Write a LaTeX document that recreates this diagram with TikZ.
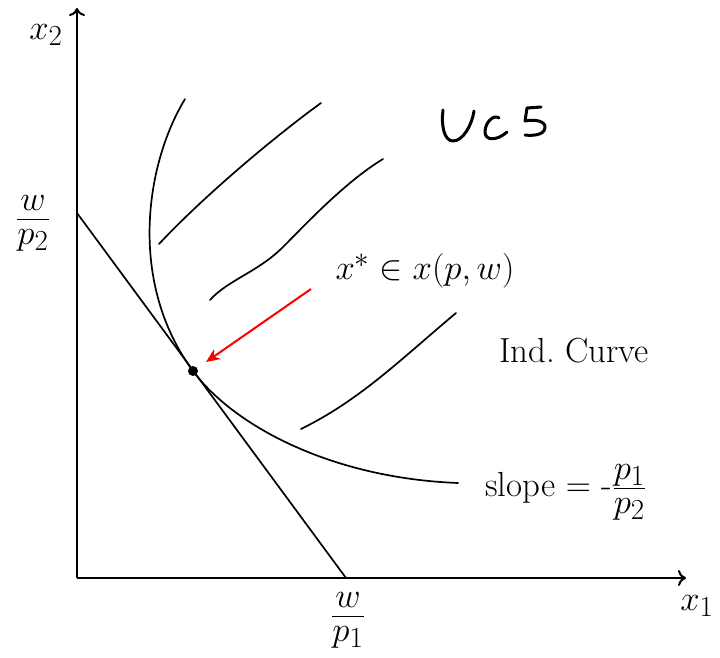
\documentclass[tikz,border=0pt]{standalone}
\usepackage{amsmath}
\usetikzlibrary{arrows.meta}
\newcommand\myfr[2]{\tfrac{\raisebox{3pt}{$\textstyle #1$}}{\raisebox{-3pt}{$\textstyle #2$}}}
\begin{document}
\begin{tikzpicture}[x=1pt,y=-1pt,
  axis/.style={line width=2pt,-{To[length=8pt,width=16pt,line width=2pt]}},
  curve/.style={line width=1.7pt,line cap=round},
  lbl/.style={font=\Huge,scale=1.4,inner sep=0pt},
  hand/.style={line width=3pt,line cap=round,line join=round}]
\useasboundingbox (0,0) rectangle (720,658);
% axes
\coordinate (O) at (77,578);
\coordinate (ytop) at (77,8);
\coordinate (xend) at (686,578);
\draw[axis] (O) -- (ytop);
\draw[axis] (O) -- (xend);
% budget line
\coordinate (b2) at (77,213);
\coordinate (b1) at (346,578);
\draw[curve] (b2) -- (b1);
% optimum
\node[circle,fill=black,inner sep=0pt,minimum size=10pt] (opt) at (193,371) {};
% indifference curve
\coordinate (ictop) at (185,99);
\coordinate (icend) at (458,483);
\draw[curve] (ictop) .. controls (145,165) and (128,283) .. (opt.center)
  .. controls (233,425) and (330,478) .. (icend);
% UCS hatch curves
\coordinate (h1a) at (159,244); \coordinate (h1b) at (321,103);
\coordinate (h2a) at (210,300); \coordinate (h2b) at (383,159);
\coordinate (h3a) at (301,429); \coordinate (h3b) at (456,313);
\draw[curve] (h1a) .. controls (200,200) and (270,140) .. (h1b);
\draw[curve] (h2a) .. controls (228,280) and (258,272) .. (283,247)
  .. controls (305,225) and (345,182) .. (h2b);
\draw[curve] (h3a) .. controls (360,400) and (400,360) .. (h3b);
% arrow
\coordinate (arrstart) at (311,289);
\coordinate (arrend) at (206,362);
\draw[red,line width=2pt,-{Stealth[length=14pt,width=12pt]}] (arrstart) -- (arrend);
% labels
\node[lbl] (lx2) at (46,35) {$x_2$};
\node[lbl] (lw2) at (33,223) {$\myfr{w}{p_2}$};
\node[lbl] (lw1) at (348,620) {$\myfr{w}{p_1}$};
\node[lbl] (lx1) at (697,606) {$x_1$};
\node[lbl] (lxs) at (425,271) {$x^{*}\in x(p,w)$};
\node[lbl] (lind) at (574,351) {Ind.\ Curve};
\node[lbl] (lslope) at (566,492) {slope $=$ -$\myfr{p_1}{p_2}$};
% handwritten UCS
\draw[hand] (443,110) .. controls (441,125) and (444,141) .. (453,141) .. controls (463,141) and (472,125) .. (474,111);
\draw[hand] (499,118) .. controls (494,114) and (485,122) .. (485,132) .. controls (485,141) and (497,141) .. (507,132);
\draw[hand] (541,107) -- (527,108) -- (525,121) .. controls (535,119) and (546,121) .. (545,128) .. controls (544,135) and (533,136) .. (525,135);
\end{tikzpicture}
\end{document}
